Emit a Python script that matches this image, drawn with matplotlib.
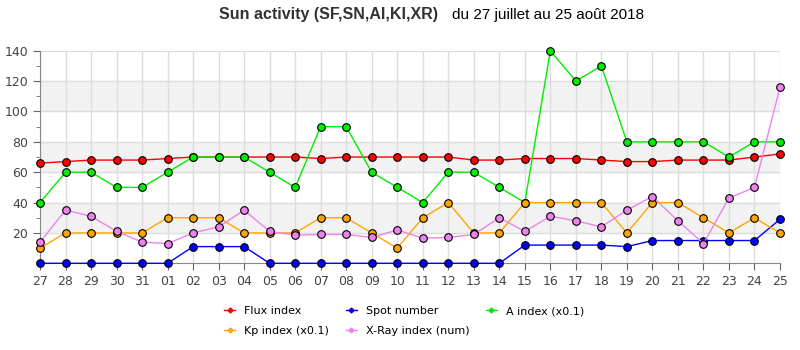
import matplotlib.pyplot as plt
import numpy as np

# days from 27 July to 25 August 2018
days = ["27", "28", "29", "30", "31"] + ["%02d" % d for d in range(1, 26)]

flux = [66, 67, 68, 68, 68, 69, 70, 70, 70, 70, 70, 69, 70, 70, 70,
        70, 70, 68, 68, 69, 69, 69, 68, 67, 67, 68, 68, 68, 70, 72]
spots = [0, 0, 0, 0, 0, 0, 11, 11, 11, 0, 0, 0, 0, 0, 0,
         0, 0, 0, 0, 12, 12, 12, 12, 11, 15, 15, 15, 15, 15, 29]
a_index = [40, 60, 60, 50, 50, 60, 70, 70, 70, 60, 50, 90, 90, 60, 50,
           40, 60, 60, 50, 40, 140, 120, 130, 80, 80, 80, 80, 70, 80, 80]
kp_index = [10, 20, 20, 20, 20, 30, 30, 30, 20, 20, 20, 30, 30, 20, 10,
            30, 40, 20, 20, 40, 40, 40, 40, 20, 40, 40, 30, 20, 30, 20]
xray = [14, 35, 31, 21, 14, 13, 20, 24, 35, 21, 18.5, 19, 19, 17, 22,
        16.5, 17, 19, 30, 21, 31, 28, 24, 35, 44, 28, 13, 43, 50, 116]

series = [("Flux index", flux, "#ff0000"),
          ("Spot number", spots, "#0000ff"),
          ("A index (x0.1)", a_index, "#00ee00"),
          ("Kp index (x0.1)", kp_index, "#ffa500"),
          ("X-Ray index (num)", xray, "#ee82ee")]

fig = plt.figure(figsize=(8, 3.5), dpi=100)
ax = fig.add_axes([0.05, 0.2477, 0.925, 0.6073])

x = np.arange(len(days))

# alternating grey bands
for lo in (20, 60, 100):
    ax.axhspan(lo, lo + 20, color="#f2f2f2", zorder=0)

for name, vals, col in series:
    ax.plot(x, vals, color=col, lw=1, marker="o", ms=5.5, mfc=col,
            mec="black", mew=0.8, clip_on=False, zorder=3)

ax.set_xlim(0, len(days) - 1)
ax.set_ylim(0, 140)
ax.set_xticks(x)
ax.set_xticklabels(days)
ax.set_yticks(range(20, 141, 20))
ax.set_yticks(range(10, 141, 20), minor=True)
ax.grid(True, which="major", color="#dddddd", lw=1, zorder=1)
ax.set_axisbelow(True)
ax.tick_params(colors="#666666", labelcolor="#444444", labelsize=9, length=5)
ax.tick_params(which="minor", length=3, colors="#666666")
for s in ("top", "right"):
    ax.spines[s].set_visible(False)
for s in ("left", "bottom"):
    ax.spines[s].set_color("#888888")

# legend below the plot
handles = [plt.Line2D([], [], color=col, lw=1, marker="D", ms=2.5, mfc=col, mec=col)
           for _, _, col in series]
labels = [name for name, _, _ in series]
order = [0, 3, 1, 4, 2]
fig.legend([handles[i] for i in order], [labels[i] for i in order], ncol=3,
           loc="center", bbox_to_anchor=(0.505, 0.083), frameon=False, fontsize=8,
           handlelength=1.0, handletextpad=0.8, columnspacing=1.5, labelspacing=0.85)

fig.text(0.547, 0.958, "Sun activity (SF,SN,AI,KI,XR)", ha="right", va="center",
         fontsize=11.5, fontweight="bold", color="#333333", family="Liberation Sans")
fig.text(0.565, 0.958, "du 27 juillet au 25 ao\u00fbt 2018", ha="left", va="center",
         fontsize=11, color="black", family="Liberation Sans")

fig.savefig("out.png", dpi=100)
